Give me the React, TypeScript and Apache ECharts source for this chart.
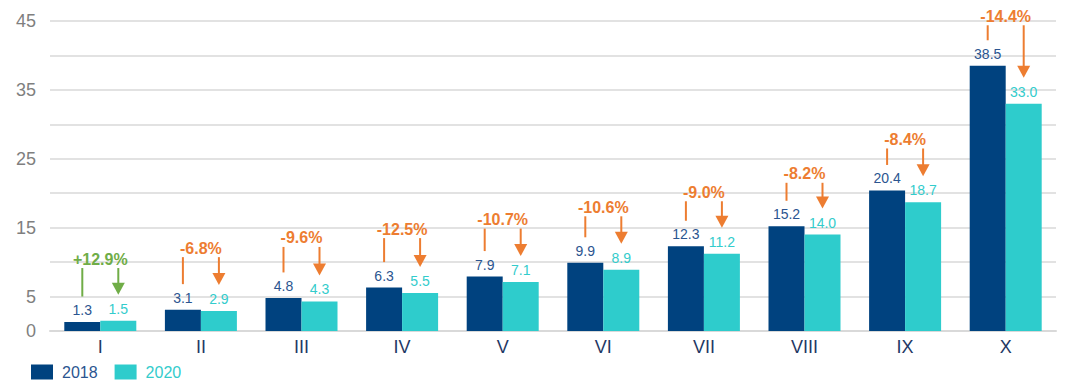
import React, { useEffect, useRef } from "react";
import * as echarts from "echarts";

const categories = ["I", "II", "III", "IV", "V", "VI", "VII", "VIII", "IX", "X"];
const values2018 = [1.3, 3.1, 4.8, 6.3, 7.9, 9.9, 12.3, 15.2, 20.4, 38.5];
const values2020 = [1.5, 2.9, 4.3, 5.5, 7.1, 8.9, 11.2, 14.0, 18.7, 33.0];
const pctChange = [12.9, -6.8, -9.6, -12.5, -10.7, -10.6, -9.0, -8.2, -8.4, -14.4];
const yTickLabels = [0, 5, 15, 25, 35, 45];

const C2018 = "#00427f";
const C2020 = "#2ecccc";
const L2018 = "#2b5590";
const L2020 = "#33cccc";
const UP = "#70ad47";
const DOWN = "#ed7d31";
const FONT = "'Liberation Sans', Arial, sans-serif";

export default function App() {
  const ref = useRef<HTMLDivElement>(null);
  useEffect(() => {
    if (!ref.current) return;
    const chart = echarts.init(ref.current, null, { renderer: "svg" });
    const annData = categories.map((_, i) => [i, values2018[i], values2020[i], pctChange[i]]);
    const half = 18;
    chart.setOption({
      animation: false,
      textStyle: { fontFamily: FONT },
      grid: { left: 50, right: 15, top: 21, bottom: 61 },
      legend: {
        left: 26,
        bottom: 7,
        itemWidth: 22,
        itemHeight: 15,
        itemGap: 17,
        icon: "rect",
        textStyle: { fontSize: 16, fontFamily: FONT, padding: [0, 0, 0, 4] },
        data: [
          { name: "2018", textStyle: { color: L2018 } },
          { name: "2020", textStyle: { color: L2020 } },
        ],
      },
      xAxis: {
        type: "category",
        data: categories,
        axisLine: { show: true, lineStyle: { color: "#d9d9d9", width: 2 } },
        axisTick: { show: false },
        axisLabel: {
          color: "#1f3864",
          fontSize: 18,
          margin: 7,
          fontFamily: "'Liberation Sans Narrow', 'Liberation Sans', Arial, sans-serif",
        },
      },
      yAxis: {
        type: "value",
        min: 0,
        max: 45,
        interval: 5,
        axisLine: { show: false },
        axisTick: { show: false },
        splitLine: { lineStyle: { color: "#d9d9d9", width: 1.5 } },
        axisLabel: {
          color: "#7f7f7f",
          fontSize: 18,
          margin: 14,
          formatter: (v: number) => (yTickLabels.includes(v) ? String(v) : ""),
        },
      },
      series: [
        {
          name: "2018",
          type: "bar",
          data: values2018,
          barWidth: 36,
          barGap: "0%",
          itemStyle: { color: C2018 },
          label: {
            show: true,
            position: "top",
            distance: 5,
            color: L2018,
            fontSize: 14,
            formatter: (p: any) => Number(p.value).toFixed(1),
          },
        },
        {
          name: "2020",
          type: "bar",
          data: values2020,
          barWidth: 36,
          itemStyle: { color: C2020 },
          label: {
            show: true,
            position: "top",
            distance: 5,
            color: L2020,
            fontSize: 14,
            formatter: (p: any) => Number(p.value).toFixed(1),
          },
        },
        {
          type: "custom",
          silent: true,
          encode: { x: 0, y: 1 },
          data: annData,
          z: 10,
          renderItem: (params: any, api: any) => {
            const i = api.value(0);
            const v1 = api.value(1);
            const v2 = api.value(2);
            const p = api.value(3);
            const c1 = api.coord([i, v1]);
            const c2 = api.coord([i, v2]);
            const cx = c1[0];
            const x1 = cx - half;
            const x2 = cx + half;
            const top = c1[1] - (54 - 1.5 * i);
            const lineBottom = c1[1] - 25.5;
            const arrowBottom = c2[1] - 26;
            const color = p > 0 ? UP : DOWN;
            const headH = 12;
            const headW = 6.5;
            return {
              type: "group",
              children: [
                {
                  type: "line",
                  shape: { x1: x1, y1: top, x2: x1, y2: lineBottom },
                  style: { stroke: color, lineWidth: 2 },
                },
                {
                  type: "line",
                  shape: { x1: x2, y1: top, x2: x2, y2: arrowBottom - headH + 1 },
                  style: { stroke: color, lineWidth: 2 },
                },
                {
                  type: "polygon",
                  shape: {
                    points: [
                      [x2 - headW, arrowBottom - headH],
                      [x2 + headW, arrowBottom - headH],
                      [x2, arrowBottom],
                    ],
                  },
                  style: { fill: color },
                },
                {
                  type: "text",
                  x: cx,
                  y: top - 9,
                  style: {
                    text: (p > 0 ? "+" : "") + p.toFixed(1) + "%",
                    fill: color,
                    font: "bold 16px " + FONT,
                    align: "center",
                    verticalAlign: "middle",
                  },
                },
              ],
            };
          },
        },
      ],
    });
    return () => chart.dispose();
  }, []);
  return <div ref={ref} style={{ width: 1071, height: 392, margin: -8 }} />;
}
